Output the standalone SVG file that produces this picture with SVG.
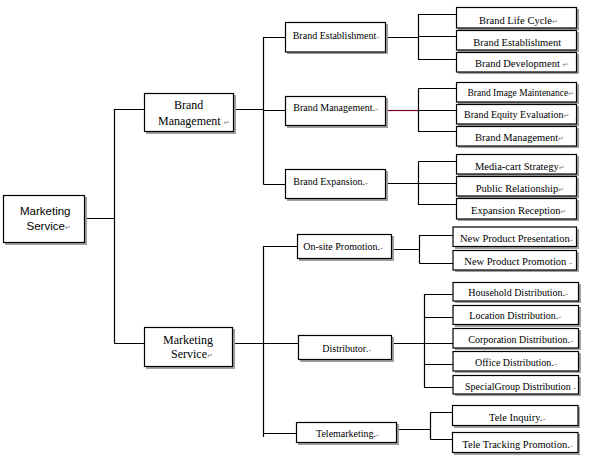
<svg xmlns="http://www.w3.org/2000/svg" width="595" height="458" viewBox="0 0 595 458">
<style>
.bg{fill:#ffffff}
.sh{fill:#a0a0a0}
.bx{fill:#ffffff;stroke:#000000;stroke-width:1.2}
.ln{stroke:#000000;stroke-width:1.2;fill:none}
.lr{stroke:#800030;stroke-width:1.2;fill:none}
.t{font-family:"Liberation Serif","Times New Roman",serif;font-size:10.5px;fill:#000000}
.m{font-size:10px}
.n{font-size:9.5px}
.L{font-size:12px}
.s{font-family:"Liberation Sans",Arial,sans-serif;font-size:11.5px;fill:#000000}
.pm{font-family:"DejaVu Sans",sans-serif;font-size:7px;fill:#808080}
.pt{font-family:"DejaVu Sans",sans-serif;font-size:4px;fill:#808080}
</style>
<rect class="bg" x="0" y="0" width="595" height="458"/>

<g id="connectors">
<path class="ln" d="M84.5 218.5H114.5M114.5 109V343.5M114.5 109.5H144M114.5 343.5H144"/>
<path class="ln" d="M234 109.5H263.5M263.5 37V184.5M263.5 37.5H285M263.5 110.5H285M263.5 184.5H285"/>
<path class="ln" d="M233 343.5H298M263.5 246V437M263.5 246.5H297M263.5 433.5H296"/>
<path class="ln" d="M386 37.5H418.5M418.5 14V60M418.5 14.5H456M418.5 36.5H456M418.5 59.5H456"/>
<path class="lr" d="M386 110.5H418"/>
<path class="ln" d="M418.5 88.5V132M418.5 88.5H456M418.5 110.5H456M418.5 131.5H456"/>
<path class="ln" d="M386 183.5H418.5M418.5 161.5V205M418.5 161.5H456M418.5 183.5H456M418.5 204.5H456"/>
<path class="ln" d="M391 249.5H419.5M419.5 235V263.5M419.5 235.5H453M419.5 263.5H453"/>
<path class="ln" d="M392 343.5H424.5M424.5 294V388M424.5 294.5H453M424.5 317.5H453M424.5 343.5H453M424.5 364.5H453M424.5 387.5H453"/>
<path class="ln" d="M397 429.5H430.5M430.5 412V439.5M430.5 412.5H452M430.5 439.5H452"/>
</g>

<g id="root">
<rect class="sh" x="5" y="197" width="82" height="48"/>
<rect class="bx" x="3.5" y="195.5" width="81" height="47"/>
<text class="s" x="20" y="215">Marketing</text>
<text class="s" x="26.5" y="230">Service<tspan class="pm">↵</tspan></text>
</g>

<g id="brand-management">
<rect class="sh" x="146" y="95" width="90" height="39"/>
<rect class="bx" x="144.5" y="93.5" width="89" height="38"/>
<text class="t L" x="188.7" y="109.3" text-anchor="middle">Brand</text>
<text class="t L" x="158" y="125">Management <tspan class="pm">↵</tspan></text>
</g>

<g id="marketing-service">
<rect class="sh" x="146" y="329" width="89" height="40"/>
<rect class="bx" x="144.5" y="327.5" width="88" height="39"/>
<text class="t L" x="188" y="344" text-anchor="middle">Marketing</text>
<text class="t L" x="171" y="358.3">Service<tspan class="pm">↵</tspan></text>
</g>

<g id="brand-establishment">
<rect class="sh" x="287" y="24" width="101" height="30"/>
<rect class="bx" x="285.5" y="22.5" width="100" height="29.5"/>
<text class="t m" x="292.7" y="38.5">Brand Establishment<tspan class="pt">↵</tspan></text>
</g>

<g id="brand-management-mid">
<rect class="sh" x="287" y="98" width="101" height="30"/>
<rect class="bx" x="285.5" y="96.5" width="100" height="29"/>
<text class="t m" x="293.3" y="110.7">Brand Management.<tspan class="pt">↵</tspan></text>
</g>

<g id="brand-expansion">
<rect class="sh" x="287" y="171" width="101" height="30"/>
<rect class="bx" x="285.5" y="169.5" width="100" height="29"/>
<text class="t m" x="293.3" y="185">Brand Expansion.<tspan class="pt">↵</tspan></text>
</g>

<g id="onsite-promotion">
<rect class="sh" x="299" y="236" width="95" height="25"/>
<rect class="bx" x="297.5" y="234.5" width="94" height="24"/>
<text class="t m" x="303.3" y="250">On-site Promotion.<tspan class="pt">↵</tspan></text>
</g>

<g id="distributor">
<rect class="sh" x="300" y="337" width="94" height="25"/>
<rect class="bx" x="298.5" y="335.5" width="93" height="24"/>
<text class="t m" x="322.3" y="351.7">Distributor.<tspan class="pt">↵</tspan></text>
</g>

<g id="telemarketing">
<rect class="sh" x="298" y="424" width="101" height="21"/>
<rect class="bx" x="296.5" y="422.5" width="100" height="20"/>
<text class="t m" x="316" y="436.7">Telemarketing.<tspan class="pt">↵</tspan></text>
</g>

<g id="brand-life-cycle">
<rect class="sh" x="458" y="9" width="121" height="21"/>
<rect class="bx" x="456.5" y="7.5" width="120" height="20.5"/>
<text class="t" x="479" y="24">Brand Life Cycle<tspan class="pm">↵</tspan></text>
</g>
<g id="brand-establishment-leaf">
<rect class="sh" x="458" y="32" width="121" height="20"/>
<rect class="bx" x="456.5" y="30.5" width="120" height="19.5"/>
<text class="t" x="473.3" y="46">Brand Establishment</text>
</g>
<g id="brand-development">
<rect class="sh" x="458" y="54" width="121" height="20"/>
<rect class="bx" x="456.5" y="52.5" width="120" height="19.5"/>
<text class="t" x="475" y="66.7">Brand Development <tspan class="pm">↵</tspan></text>
</g>

<g id="brand-image-maintenance">
<rect class="sh" x="458" y="84" width="121" height="20"/>
<rect class="bx" x="456.5" y="82.5" width="120" height="19.5"/>
<text class="t n" x="467.5" y="96.3">Brand Image Maintenance<tspan class="pm">↵</tspan></text>
</g>
<g id="brand-equity-evaluation">
<rect class="sh" x="458" y="106" width="121" height="20"/>
<rect class="bx" x="456.5" y="104.5" width="120" height="19.5"/>
<text class="t m" x="464" y="118">Brand Equity Evaluation<tspan class="pm">↵</tspan></text>
</g>
<g id="brand-management-leaf">
<rect class="sh" x="458" y="128" width="121" height="20"/>
<rect class="bx" x="456.5" y="126.5" width="120" height="19.5"/>
<text class="t" x="475" y="140.7">Brand Management<tspan class="pm">↵</tspan></text>
</g>

<g id="media-cart-strategy">
<rect class="sh" x="458" y="156" width="121" height="20"/>
<rect class="bx" x="456.5" y="154.5" width="120" height="19.5"/>
<text class="t" x="475" y="169.5">Media-cart Strategy<tspan class="pm">↵</tspan></text>
</g>
<g id="public-relationship">
<rect class="sh" x="458" y="178" width="121" height="20"/>
<rect class="bx" x="456.5" y="176.5" width="120" height="19.5"/>
<text class="t" x="475.7" y="192.3">Public Relationship<tspan class="pm">↵</tspan></text>
</g>
<g id="expansion-reception">
<rect class="sh" x="458" y="200" width="121" height="21"/>
<rect class="bx" x="456.5" y="198.5" width="120" height="20.5"/>
<text class="t" x="471" y="214.3">Expansion Reception<tspan class="pm">↵</tspan></text>
</g>

<g id="new-product-presentation">
<rect class="sh" x="455" y="229" width="124" height="20"/>
<rect class="bx" x="453" y="227" width="123.5" height="19.5"/>
<text class="t" x="460" y="241.7">New Product Presentation<tspan class="pt">↵</tspan></text>
</g>
<g id="new-product-promotion">
<rect class="sh" x="455" y="252" width="124" height="20"/>
<rect class="bx" x="453" y="250.5" width="123.5" height="19.5"/>
<text class="t" x="464.3" y="265">New Product Promotion <tspan class="pt">↵</tspan></text>
</g>

<g id="household-distribution">
<rect class="sh" x="455" y="284" width="126" height="19"/>
<rect class="bx" x="453" y="282.5" width="125.5" height="18.5"/>
<text class="t m" x="468.3" y="296">Household Distribution.<tspan class="pt">↵</tspan></text>
</g>
<g id="location-distribution">
<rect class="sh" x="455" y="307" width="126" height="20"/>
<rect class="bx" x="453" y="305.5" width="125.5" height="19"/>
<text class="t m" x="469.3" y="319.3">Location Distribution.<tspan class="pt">↵</tspan></text>
</g>
<g id="corporation-distribution">
<rect class="sh" x="455" y="330" width="126" height="20"/>
<rect class="bx" x="453" y="328.5" width="125.5" height="19.5"/>
<text class="t m" x="468.3" y="343.3">Corporation Distribution.<tspan class="pt">↵</tspan></text>
</g>
<g id="office-distribution">
<rect class="sh" x="455" y="353" width="126" height="20"/>
<rect class="bx" x="453" y="351.5" width="125.5" height="19.5"/>
<text class="t m" x="475" y="365.7">Office Distribution.<tspan class="pt">↵</tspan></text>
</g>
<g id="specialgroup-distribution">
<rect class="sh" x="455" y="377" width="126" height="19"/>
<rect class="bx" x="453" y="375.5" width="125.5" height="18.5"/>
<text class="t m" x="465" y="390">SpecialGroup Distribution <tspan class="pt">↵</tspan></text>
</g>

<g id="tele-inquiry">
<rect class="sh" x="454" y="407" width="126" height="21"/>
<rect class="bx" x="452.5" y="405.5" width="125.5" height="20"/>
<text class="t" x="489" y="420.5">Tele Inquiry.<tspan class="pt">↵</tspan></text>
</g>
<g id="tele-tracking-promotion">
<rect class="sh" x="454" y="434" width="126" height="21"/>
<rect class="bx" x="452.5" y="432.5" width="125.5" height="20"/>
<text class="t" x="462.3" y="448">Tele Tracking Promotion.<tspan class="pt">↵</tspan></text>
</g>
</svg>
